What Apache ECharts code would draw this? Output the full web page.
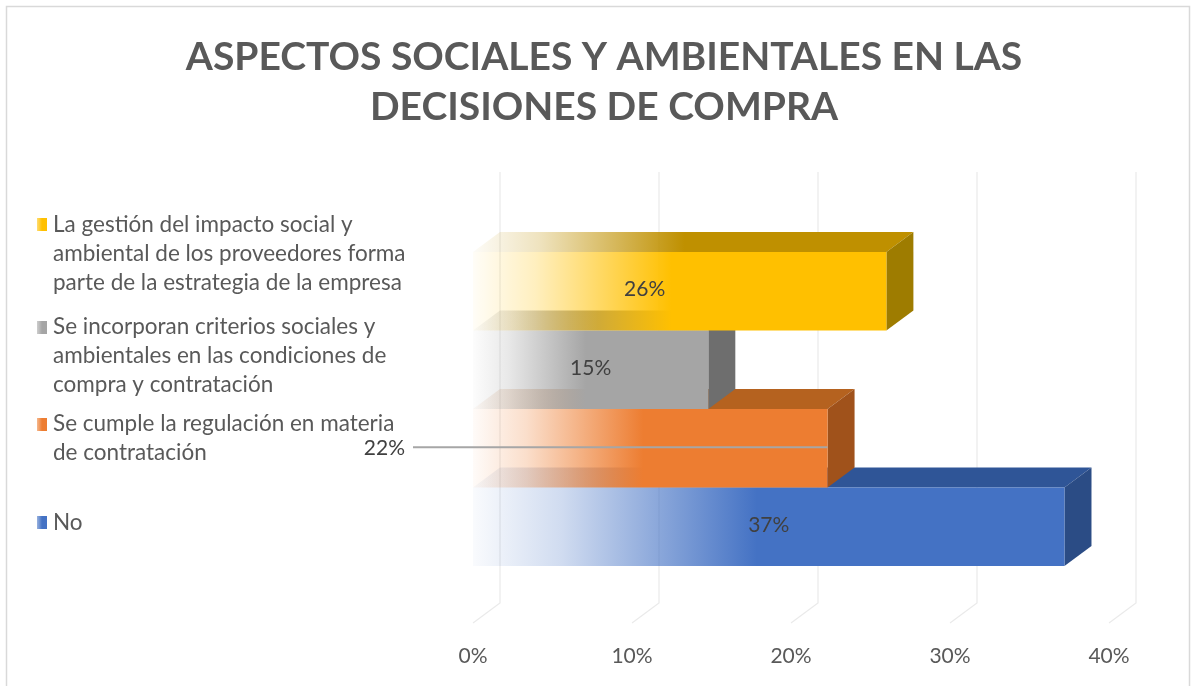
<!DOCTYPE html>
<html>
<head>
<meta charset="utf-8">
<script src="https://cdn.jsdelivr.net/npm/echarts@6/dist/echarts.min.js"></script>
<style>
html,body{margin:0;padding:0;background:#fff;}
#chart{width:1192px;height:686px;}
</style>
</head>
<body>
<div id="chart"></div>
<script>
// ---- data ----
const titleText = 'ASPECTOS SOCIALES Y AMBIENTALES EN LAS\nDECISIONES DE COMPRA';
// categories from bottom to top
const categories = [
  'No',
  'Se cumple la regulación en materia\nde contratación',
  'Se incorporan criterios sociales y\nambientales en las condiciones de\ncompra y contratación',
  'La gestión del impacto social y\nambiental de los proveedores forma\nparte de la estrategia de la empresa'
];
const values = [0.372, 0.223, 0.148, 0.26];
const tickValues = [0, 0.1, 0.2, 0.3, 0.4];
const tickLabels = ['0%', '10%', '20%', '30%', '40%'];

// ---- styles ----
const FONT = 'Lato, "Open Sans", sans-serif';
const TEXT_GRAY = '#595959';
const frontColors = ['#4472C4', '#ED7D31', '#A5A5A5', '#FFC000'];
const topColors   = ['#2F5597', '#B5621F', '#8A8A8A', '#BF9000'];
const sideColors  = ['#2B4C85', '#A0521B', '#6E6E6E', '#9E7C00'];
const DX = 27, DY = -20;          // depth offset of the 3D boxes
const legendTops = [508, 409, 312, 210];
const legendMarkerTops = [516, 418, 321, 218];
const labelShift = [0, 0, 0, -35];
const OUTSIDE_LABEL_INDEX = 1;

function hexA(hex, a){
  const n = parseInt(hex.slice(1), 16);
  return 'rgba(' + (n >> 16 & 255) + ',' + (n >> 8 & 255) + ',' + (n & 255) + ',' + a + ')';
}
function fade(hex){
  return new echarts.graphic.LinearGradient(0, 0, 1, 0, [
    {offset: 0, color: hexA(hex, 0.03)},
    {offset: 0.15, color: hexA(hex, 0.25)},
    {offset: 0.48, color: hexA(hex, 1)},
    {offset: 1, color: hexA(hex, 1)}
  ]);
}

function makeBarRender(idx){
  return function(params, api){
    const v = api.value(0), c = api.value(1);
    const p0 = api.coord([0, c]);
    const p1 = api.coord([v, c]);
    const h = api.size([0, 1])[1];
    const yT = p0[1] - h / 2, yB = p0[1] + h / 2;
    const x0 = p0[0], x1 = p1[0];
    const children = [
      {type: 'polygon', shape: {points: [[x0, yT], [x1, yT], [x1 + DX, yT + DY], [x0 + DX, yT + DY]]},
        style: {fill: fade(topColors[idx])}},
      {type: 'polygon', shape: {points: [[x1, yT], [x1 + DX, yT + DY], [x1 + DX, yB + DY], [x1, yB]]},
        style: {fill: sideColors[idx]}},
      {type: 'rect', shape: {x: x0, y: yT, width: x1 - x0, height: yB - yT},
        style: {fill: fade(frontColors[idx])}}
    ];
    const txt = Math.round(v * 100) + '%';
    if (idx === OUTSIDE_LABEL_INDEX) {
      children.push({type: 'line', shape: {x1: x0 - 60, y1: p0[1] - 1, x2: x1, y2: p0[1] - 1},
        style: {stroke: '#A6A6A6', lineWidth: 2}});
      children.push({type: 'text', x: x0 - 68, y: p0[1],
        style: {text: txt, font: '21px ' + FONT, fill: '#404040', align: 'right', verticalAlign: 'middle'}});
    } else {
      children.push({type: 'text', x: (x0 + x1) / 2 + labelShift[idx], y: p0[1] - 2,
        style: {text: txt, font: '21px ' + FONT, fill: '#404040', align: 'center', verticalAlign: 'middle'}});
    }
    return {type: 'group', children: children};
  };
}

function renderGrid(params, api){
  const x = api.coord([api.value(0), 0])[0];
  const cs = params.coordSys;
  const bottom = cs.y + cs.height;
  return {type: 'polyline', shape: {points: [[x + DX, cs.y - 80], [x + DX, bottom + 37], [x, bottom + 57]]},
    style: {stroke: '#EAEAEA', lineWidth: 1.2, fill: null}};
}

const series = [{
  type: 'custom', name: 'grid', silent: true, z: 1,
  data: tickValues.map(t => [t]), renderItem: renderGrid
}];
categories.forEach((name, i) => {
  series.push({
    type: 'custom', name: name, z: 2 + i,
    itemStyle: {color: frontColors[i]},
    data: [[values[i], i]],
    renderItem: makeBarRender(i)
  });
});

const legends = categories.map((name, i) => ({
  data: [name], orient: 'vertical', left: 36, top: legendTops[i], padding: 0,
  itemWidth: 10, itemHeight: 13, itemGap: 0, selectedMode: false,
  icon: 'none',
  textStyle: {fontFamily: FONT, fontSize: 22.5, color: TEXT_GRAY, lineHeight: 29, padding: [0, 0, 0, 2]}
}));

// legend markers (aligned with the first text line, as in the reference)
const markerGraphics = categories.map((name, i) => ({
  type: 'rect', left: 37, top: legendMarkerTops[i], silent: true,
  shape: {width: 10, height: 13},
  style: {fill: new echarts.graphic.LinearGradient(0, 0, 1, 0, [
    {offset: 0, color: hexA(frontColors[i], 0.55)}, {offset: 0.5, color: frontColors[i]}, {offset: 1, color: frontColors[i]}])}
}));

const chart = echarts.init(document.getElementById('chart'), null, {renderer: 'canvas'});
chart.setOption({
  backgroundColor: '#fff',
  animation: false,
  title: {
    text: titleText, left: 599, top: 27, textAlign: 'center',
    textStyle: {fontFamily: FONT, fontSize: 39, fontWeight: 'bold', color: TEXT_GRAY, lineHeight: 50}
  },
  legend: legends,
  grid: {left: 473, right: 83, top: 252, bottom: 120, containLabel: false},
  xAxis: {
    type: 'value', min: 0, max: 0.4, interval: 0.1,
    axisLine: {show: false}, axisTick: {show: false}, splitLine: {show: false},
    axisLabel: {margin: 80, fontFamily: FONT, fontSize: 21, color: TEXT_GRAY,
      formatter: v => tickLabels[Math.round(v * 10)]}
  },
  yAxis: {type: 'category', data: categories, show: false},
  graphic: [{type: 'rect', shape: {x: 6.5, y: 6.5, width: 1183, height: 690},
    style: {fill: null, stroke: '#D9D9D9', lineWidth: 1.5}, silent: true, z: 0}].concat(markerGraphics),
  series: series
});
</script>
</body>
</html>
